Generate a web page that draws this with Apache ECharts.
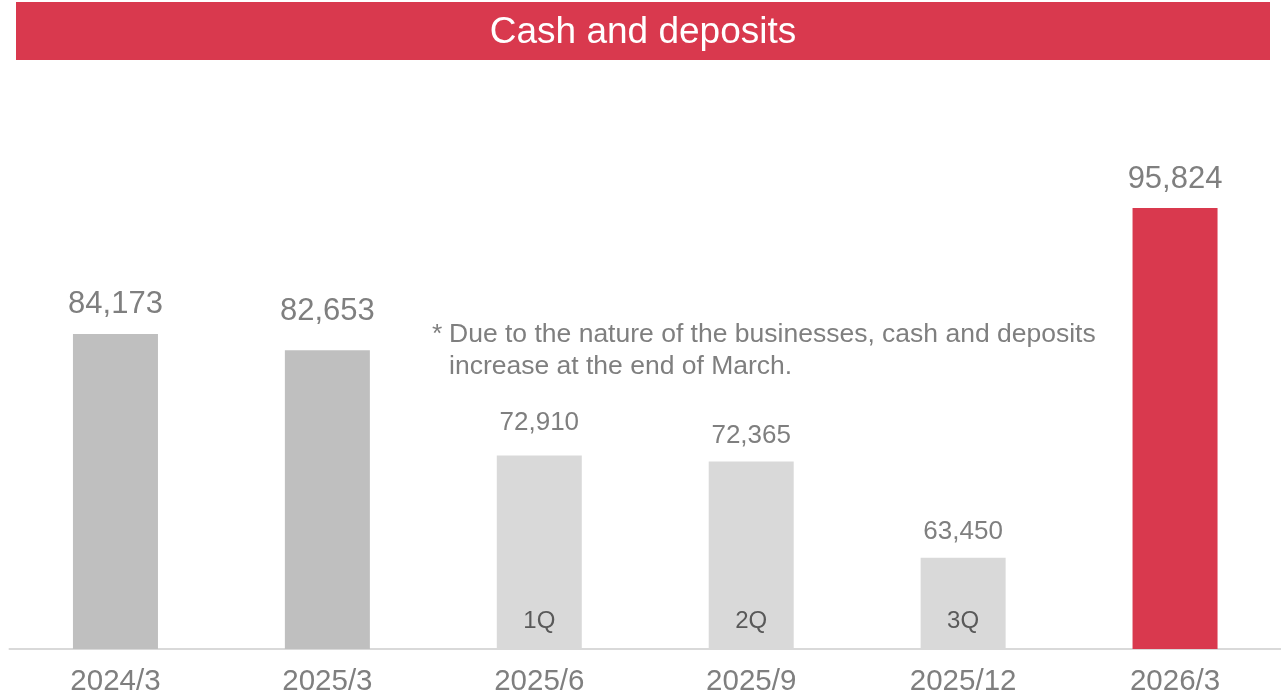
<!DOCTYPE html>
<html>
<head>
<meta charset="utf-8">
<script src="https://cdn.jsdelivr.net/npm/echarts@6/dist/echarts.min.js"></script>
<style>
  html, body { margin: 0; padding: 0; background: #ffffff; }
  #chart { width: 1281px; height: 699px; }
</style>
</head>
<body>
<div id="chart"></div>
<script>
// Period-end balances (millions of yen)
const categories = ['2024/3', '2025/3', '2025/6', '2025/9', '2025/12', '2026/3'];
const cashDeposits = [84173, 82653, 72910, 72365, 63450, 95824];
const quarterTags = ['', '', '1Q', '2Q', '3Q', ''];
const barKinds = ['year', 'year', 'quarter', 'quarter', 'quarter', 'latest'];

const FONT = '"Liberation Sans", Arial, Helvetica, sans-serif';
const kindStyle = {
  year:    { color: '#BFBFBF', fontSize: 31 },
  quarter: { color: '#D9D9D9', fontSize: 26 },
  latest:  { color: '#D9394E', fontSize: 31 }
};
// space between each bar top and its value label
const labelGap = [14, 23, 20, 13, 13, 13];

const fmt = v => v.toLocaleString('en-US');

const valueBars = cashDeposits.map((v, i) => {
  const s = kindStyle[barKinds[i]];
  return {
    value: v,
    itemStyle: { color: s.color },
    label: { fontSize: s.fontSize, distance: labelGap[i] }
  };
});

const chart = echarts.init(document.getElementById('chart'), null, { renderer: 'canvas' });

chart.setOption({
  animation: false,
  backgroundColor: '#ffffff',
  grid: { left: 9.5, width: 1273, top: 163, bottom: 50, containLabel: false },
  xAxis: {
    type: 'category',
    data: categories,
    axisLine: { show: true, lineStyle: { color: '#D9D9D9', width: 2 } },
    axisTick: { show: false },
    axisLabel: { fontFamily: FONT, fontSize: 29.5, color: '#7F7F7F', margin: 18 },
    splitLine: { show: false }
  },
  yAxis: {
    type: 'value',
    min: 55000,
    max: 100000,
    show: false,
    splitLine: { show: false }
  },
  series: [
    {
      name: 'Cash and deposits',
      type: 'bar',
      barWidth: 85,
      data: valueBars,
      z: 2,
      label: {
        show: true,
        position: 'top',
        fontFamily: FONT,
        color: '#7F7F7F',
        formatter: p => fmt(p.value)
      }
    },
    {
      name: 'Quarter',
      type: 'bar',
      barWidth: 85,
      barGap: '-100%',
      silent: true,
      z: 3,
      data: cashDeposits,
      itemStyle: { color: 'rgba(0,0,0,0)' },
      label: {
        show: true,
        position: 'insideBottom',
        distance: 16,
        fontFamily: FONT,
        fontSize: 24,
        color: '#595959',
        formatter: p => quarterTags[p.dataIndex]
      }
    }
  ],
  graphic: [
    {
      type: 'rect',
      left: 16, top: 2,
      shape: { width: 1254, height: 58 },
      style: { fill: '#D9394E' },
      silent: true
    },
    {
      type: 'text',
      x: 643, y: 33,
      style: {
        text: 'Cash and deposits',
        fill: '#ffffff',
        font: '37px ' + FONT,
        textAlign: 'center',
        textVerticalAlign: 'middle'
      },
      silent: true
    },
    {
      type: 'text',
      x: 432, y: 335,
      style: {
        text: '*',
        fill: '#7F7F7F',
        font: '26.5px ' + FONT,
        textAlign: 'left',
        textVerticalAlign: 'middle'
      },
      silent: true
    },
    {
      type: 'text',
      x: 449, y: 335,
      style: {
        text: 'Due to the nature of the businesses, cash and deposits',
        fill: '#7F7F7F',
        font: '26.5px ' + FONT,
        textAlign: 'left',
        textVerticalAlign: 'middle'
      },
      silent: true
    },
    {
      type: 'text',
      x: 449, y: 367,
      style: {
        text: 'increase at the end of March.',
        fill: '#7F7F7F',
        font: '26.5px ' + FONT,
        textAlign: 'left',
        textVerticalAlign: 'middle'
      },
      silent: true
    }
  ]
});
</script>
</body>
</html>
